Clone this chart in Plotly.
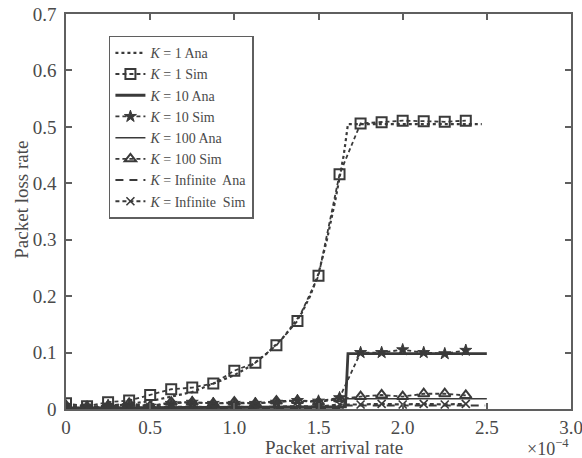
import plotly.graph_objects as go

# ---------------- data ----------------
sim_x = [0, 0.125, 0.25, 0.375, 0.5, 0.625, 0.75, 0.875, 1.0, 1.125,
         1.25, 1.375, 1.5, 1.625, 1.75, 1.875, 2.0, 2.125, 2.25, 2.375]

k1_ana_x = [0, 0.25, 0.5, 0.75, 1.0, 1.1, 1.2, 1.3, 1.4, 1.45, 1.5, 1.55,
            1.6, 1.65, 1.675, 1.75, 2.0, 2.25, 2.47]
k1_ana_y = [0.0, 0.004, 0.014, 0.03, 0.06, 0.077, 0.1, 0.13, 0.17, 0.2,
            0.24, 0.3, 0.37, 0.45, 0.505, 0.505, 0.505, 0.505, 0.505]
k1_sim_y = [0.01, 0.005, 0.012, 0.015, 0.025, 0.035, 0.038, 0.045, 0.068, 0.082,
            0.113, 0.156, 0.236, 0.416, 0.506, 0.508, 0.511, 0.51, 0.509, 0.511]

k10_ana_x = [0, 1.0, 1.66, 1.675, 2.5]
k10_ana_y = [0.002, 0.003, 0.004, 0.098, 0.098]
k10_sim_y = [0.005, 0.003, 0.006, 0.008, 0.005, 0.01, 0.012, 0.01, 0.01, 0.01,
             0.012, 0.015, 0.014, 0.02, 0.1, 0.1, 0.105, 0.1, 0.098, 0.104]

k100_ana_x = [0, 1.0, 1.645, 1.66, 2.5]
k100_ana_y = [0.001, 0.002, 0.002, 0.018, 0.018]
k100_sim_y = [0.006, 0.004, 0.006, 0.01, 0.005, 0.012, 0.012, 0.01, 0.012, 0.01,
              0.014, 0.015, 0.012, 0.018, 0.022, 0.025, 0.022, 0.027, 0.027, 0.024]

kinf_ana_x = [0, 1.0, 1.645, 1.66, 2.49]
kinf_ana_y = [0.0, 0.001, 0.001, 0.006, 0.006]
kinf_sim_y = [0.003, 0.002, 0.003, 0.004, 0.003, 0.004, 0.004, 0.003, 0.004, 0.003,
              0.004, 0.005, 0.004, 0.008, 0.008, 0.009, 0.008, 0.009, 0.008, 0.009]

x_ticks = [0, 0.5, 1.0, 1.5, 2.0, 2.5, 3.0]
x_tick_labels = ["0", "0.5", "1.0", "1.5", "2.0", "2.5", "3.0"]
y_ticks = [0, 0.1, 0.2, 0.3, 0.4, 0.5, 0.6, 0.7]
y_tick_labels = ["0", "0.1", "0.2", "0.3", "0.4", "0.5", "0.6", "0.7"]

# ---------------- styling ----------------
INK = "#3a3a3a"
AX = "#5f5f5f"
FONT = "Liberation Serif"
TXT = "#4a4a4a"

fig = go.Figure()

fig.add_trace(go.Scatter(x=k1_ana_x, y=k1_ana_y, mode="lines",
                         name="<i>K</i> = 1 Ana",
                         line=dict(color=INK, width=2.2, dash="dot")))
fig.add_trace(go.Scatter(x=sim_x, y=k1_sim_y, mode="lines+markers",
                         name="<i>K</i> = 1 Sim",
                         line=dict(color=INK, width=1.8, dash="4px,3px"),
                         marker=dict(symbol="square-open", size=10, color=INK,
                                     line=dict(width=2, color=INK))))
fig.add_trace(go.Scatter(x=k10_ana_x, y=k10_ana_y, mode="lines",
                         name="<i>K</i> = 10 Ana",
                         line=dict(color=INK, width=2.8)))
fig.add_trace(go.Scatter(x=sim_x, y=k10_sim_y, mode="lines+markers",
                         name="<i>K</i> = 10 Sim",
                         line=dict(color=INK, width=1.8, dash="4px,3px"),
                         marker=dict(symbol="star", size=9, color=INK,
                                     line=dict(width=1, color=INK))))
fig.add_trace(go.Scatter(x=k100_ana_x, y=k100_ana_y, mode="lines",
                         name="<i>K</i> = 100 Ana",
                         line=dict(color=INK, width=1.5)))
fig.add_trace(go.Scatter(x=sim_x, y=k100_sim_y, mode="lines+markers",
                         name="<i>K</i> = 100 Sim",
                         line=dict(color=INK, width=1.8, dash="4px,3px"),
                         marker=dict(symbol="triangle-up-open", size=10, color=INK,
                                     line=dict(width=2, color=INK))))
fig.add_trace(go.Scatter(x=kinf_ana_x, y=kinf_ana_y, mode="lines",
                         name="<i>K</i> = Infinite  Ana",
                         line=dict(color=INK, width=2, dash="8px,6px")))
fig.add_trace(go.Scatter(x=sim_x, y=kinf_sim_y, mode="lines+markers",
                         name="<i>K</i> = Infinite  Sim",
                         line=dict(color=INK, width=2.2, dash="4px,3px"),
                         marker=dict(symbol="x-thin-open", size=8, color=INK,
                                     line=dict(width=1.6, color=INK))))

axis_common = dict(
    showline=True, linecolor=AX, linewidth=1.6, mirror="ticks",
    ticks="inside", ticklen=6, tickwidth=1.6, tickcolor=AX,
    showgrid=False, zeroline=False, automargin=False,
    ticklabeloverflow="allow",
    tickfont=dict(family=FONT, size=19, color=TXT),
)

fig.update_xaxes(range=[0, 3.0], tickvals=x_ticks, ticktext=x_tick_labels,
                 **axis_common)
fig.update_yaxes(range=[0, 0.7], tickvals=y_ticks, ticktext=y_tick_labels,
                 ticklabelstandoff=4, **axis_common)

fig.update_layout(
    width=582, height=458,
    margin=dict(l=66, r=11, t=14, b=49),
    paper_bgcolor="white", plot_bgcolor="white",
    font=dict(family=FONT, color=TXT),
    showlegend=True,
    legend=dict(x=0.085, y=0.945, xanchor="left", yanchor="top",
                bgcolor="white", bordercolor=AX, borderwidth=1.5,
                font=dict(family=FONT, size=14, color=TXT),
                itemwidth=30, tracegroupgap=0),
    annotations=[
        dict(text="Packet arrival rate", xref="paper", yref="paper",
             x=0.53, y=-0.097, xanchor="center", yanchor="middle",
             showarrow=False, font=dict(family=FONT, size=19, color=TXT)),
        dict(text="×10<sup>−4</sup>", xref="paper", yref="paper",
             x=1.0, y=-0.097, xanchor="right", yanchor="middle",
             showarrow=False, font=dict(family=FONT, size=18, color=TXT)),
        dict(text="Packet loss rate", xref="paper", yref="paper",
             x=-0.087, y=0.53, xanchor="center", yanchor="middle", textangle=-90,
             showarrow=False, font=dict(family=FONT, size=19, color=TXT)),
    ],
)

fig.write_html("out.html", config={"displayModeBar": False},
               post_script="document.body.style.margin='0';document.body.style.overflow='hidden';")
